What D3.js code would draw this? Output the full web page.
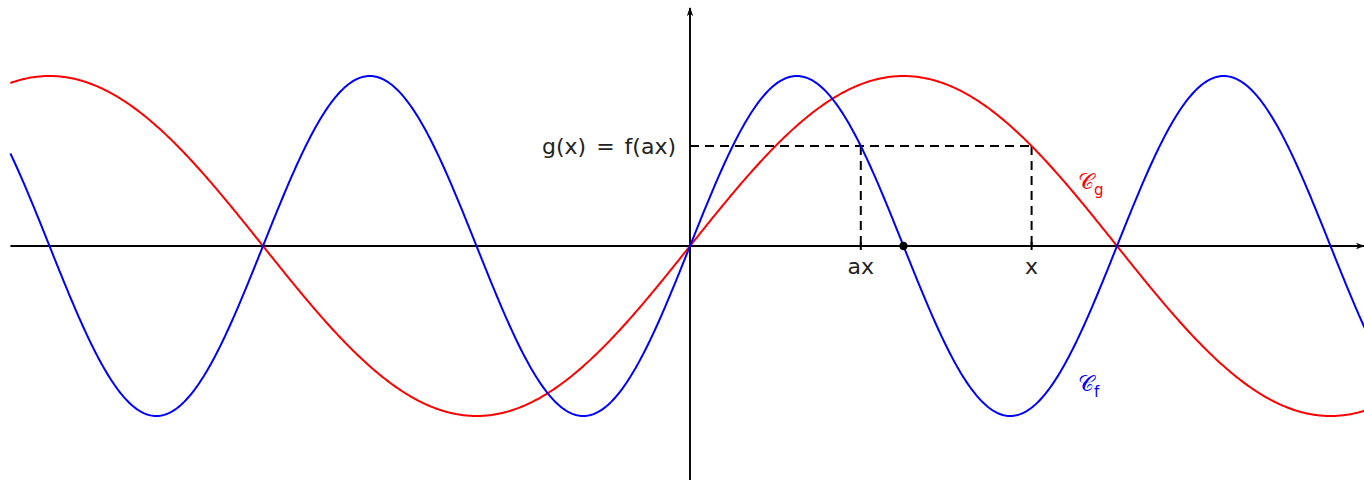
<!DOCTYPE html>
<html>
<head>
<meta charset="utf-8">
<script src="https://cdn.jsdelivr.net/npm/d3@7"></script>
<style>
  html, body { margin: 0; padding: 0; background: #fff; }
  svg { display: block; }
  text { font-family: "DejaVu Sans", sans-serif; }
</style>
</head>
<body>
<svg id="chart" width="1364" height="480"></svg>
<script>
// Curves: g(x) = sin(x), f(x) = sin(2x), so that g(x) = f(a x) with a = 1/2
const curveNames = ["g", "f"];
const curveFreqs = [1, 2];
const curveColors = ["#ff0000", "#0000ff"];
const xDomain = [-5, 5];
const yDomain = [-1.4, 1.4];
// Marked abscissae: x = 0.8π and a·x = 0.4π, and the zero of f at π/2
const markX = [0.8 * Math.PI];
const markAX = [0.4 * Math.PI];
const markZero = [Math.PI / 2];
const tickLabels = ["ax", "x"];
const levelLabel = ["g(x)", "=", "f(ax)"];

const svg = d3.select("#chart");
const unit = 427 / Math.PI;
const x = d3.scaleLinear().domain([0, 1]).range([690, 690 + unit]);
const y = d3.scaleLinear().domain([0, 1]).range([246, 76]);

// Arrow marker for the axes
svg.append("defs").append("marker")
  .attr("id", "arr").attr("viewBox", "0 0 10 10")
  .attr("refX", 9).attr("refY", 5)
  .attr("markerWidth", 9).attr("markerHeight", 9)
  .attr("markerUnits", "userSpaceOnUse")
  .attr("orient", "auto")
  .append("path").attr("d", "M0,1.5 L10,5 L0,8.5 L2.5,5 Z").attr("fill", "#000");

// Axes
svg.append("line")
  .attr("x1", x(xDomain[0])).attr("x2", x(xDomain[1]) - 5.5)
  .attr("y1", y(0)).attr("y2", y(0))
  .attr("stroke", "#000").attr("stroke-width", 1.9)
  .attr("marker-end", "url(#arr)");
svg.append("line")
  .attr("x1", x(0)).attr("x2", x(0))
  .attr("y1", y(yDomain[0])).attr("y2", y(yDomain[1]))
  .attr("stroke", "#000").attr("stroke-width", 1.9)
  .attr("marker-end", "url(#arr)");

// Dashed construction lines
const xv = markX[0], axv = markAX[0], lv = Math.sin(xv);
const dashes = [
  [0, lv, xv, lv],
  [axv, lv, axv, 0],
  [xv, lv, xv, 0]
];
svg.selectAll("line.dash").data(dashes).join("line")
  .attr("class", "dash")
  .attr("x1", d => x(d[0])).attr("y1", d => y(d[1]))
  .attr("x2", d => x(d[2])).attr("y2", d => y(d[3]))
  .attr("stroke", "#000").attr("stroke-width", 2)
  .attr("stroke-dasharray", "9,6");
// Tick marks just above the axis
[axv, xv].forEach(v => {
  svg.append("line")
    .attr("x1", x(v)).attr("x2", x(v))
    .attr("y1", y(0) - 4).attr("y2", y(0) + 4)
    .attr("stroke", "#000").attr("stroke-width", 2);
});

// Function curves
const samples = d3.range(xDomain[0], xDomain[1] + 1e-9, 0.01);
const line = d3.line().x(d => x(d[0])).y(d => y(d[1]));
curveNames.forEach((n, i) => {
  svg.append("path")
    .datum(samples.map(t => [t, Math.sin(curveFreqs[i] * t)]))
    .attr("d", line)
    .attr("fill", "none")
    .attr("stroke", curveColors[i])
    .attr("stroke-width", 2);
});

// Zero of f
svg.append("circle")
  .attr("cx", x(markZero[0])).attr("cy", y(0)).attr("r", 4.2)
  .attr("fill", "#000");

// Level label, left of the vertical axis
const lvl = svg.append("text")
  .attr("x", x(0) - 14).attr("y", y(lv) + 8)
  .attr("text-anchor", "end")
  .attr("font-size", 22).attr("fill", "#222");
lvl.append("tspan").text(levelLabel[0]);
lvl.append("tspan").attr("dx", 10).text(levelLabel[1]);
lvl.append("tspan").attr("dx", 10).text(levelLabel[2]);

[axv, xv].forEach((v, i) => {
  svg.append("text")
    .attr("x", x(v)).attr("y", y(0) + 28)
    .attr("text-anchor", "middle")
    .attr("font-size", 22).attr("fill", "#222")
    .text(tickLabels[i]);
});

// Curve names
const namePos = [[1078, 189], [1078, 391]];
curveNames.forEach((n, i) => {
  const t = svg.append("text")
    .attr("x", namePos[i][0]).attr("y", namePos[i][1])
    .attr("font-size", 22).attr("fill", curveColors[i]);
  t.append("tspan").text("𝒞");
  t.append("tspan").attr("dy", 6).attr("font-size", 15).text(n);
});
</script>
</body>
</html>
